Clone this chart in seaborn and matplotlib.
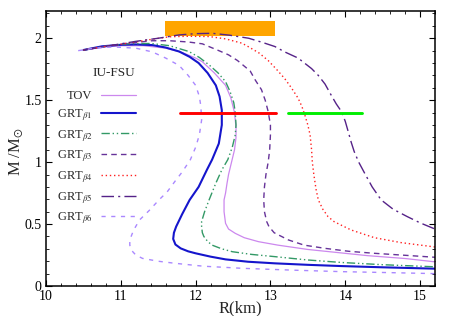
import matplotlib
matplotlib.use("Agg")
import matplotlib.pyplot as plt
import seaborn as sns
from matplotlib.patches import Rectangle
from matplotlib.ticker import MultipleLocator

# ---- data ----
tov_r = [10.50, 10.8, 11.0, 11.3, 11.6, 11.82, 12.0, 12.09, 12.25, 12.40, 12.47, 12.52, 12.54, 12.54, 12.52, 12.48, 12.44, 12.42, 12.40, 12.38, 12.38, 12.40, 12.44, 12.53, 12.65, 12.84, 13.1, 13.50, 13.9, 14.3, 14.8, 15.2]
tov_m = [1.905, 1.93, 1.94, 1.94, 1.92, 1.885, 1.84, 1.81, 1.72, 1.62, 1.52, 1.40, 1.28, 1.20, 1.10, 1.0, 0.90, 0.83, 0.75, 0.695, 0.60, 0.506, 0.46, 0.425, 0.39, 0.358, 0.33, 0.295, 0.27, 0.245, 0.222, 0.195]

b1_r = [10.50, 10.75, 11.0, 11.2, 11.42, 11.6, 11.78, 11.92, 12.04, 12.16, 12.27, 12.32, 12.35, 12.35, 12.31, 12.22, 12.15, 12.04, 11.92, 11.82, 11.74, 11.71, 11.70, 11.73, 11.80, 11.9, 12.0, 12.2, 12.40, 12.7, 13.06, 13.5, 13.95, 14.5, 15.2]
b1_m = [1.905, 1.935, 1.947, 1.95, 1.945, 1.925, 1.893, 1.85, 1.80, 1.72, 1.62, 1.53, 1.42, 1.30, 1.15, 1.02, 0.937, 0.80, 0.695, 0.58, 0.48, 0.43, 0.38, 0.335, 0.304, 0.28, 0.264, 0.237, 0.215, 0.196, 0.183, 0.171, 0.161, 0.151, 0.140]

b2_r = [10.50, 10.8, 11.1, 11.4, 11.65, 11.91, 12.05, 12.18, 12.30, 12.40, 12.46, 12.51, 12.53, 12.54, 12.53, 12.49, 12.43, 12.35, 12.27, 12.18, 12.12, 12.08, 12.08, 12.09, 12.11, 12.16, 12.22, 12.35, 12.49, 12.75, 13.06, 13.5, 13.95, 14.5, 15.2]
b2_m = [1.905, 1.935, 1.955, 1.958, 1.94, 1.893, 1.845, 1.785, 1.72, 1.65, 1.57, 1.48, 1.40, 1.30, 1.22, 1.12, 1.02, 0.937, 0.83, 0.695, 0.60, 0.52, 0.48, 0.43, 0.40, 0.36, 0.33, 0.30, 0.277, 0.255, 0.237, 0.21, 0.19, 0.172, 0.155]

b3_r = [10.50, 10.8, 11.1, 11.42, 11.65, 11.9, 12.09, 12.31, 12.44, 12.56, 12.66, 12.73, 12.80, 12.88, 12.93, 12.97, 13.0, 13.0, 12.99, 12.97, 12.94, 12.92, 12.91, 12.92, 12.95, 12.98, 13.05, 13.24, 13.45, 13.73, 14.05, 14.39, 14.8, 15.2]
b3_m = [1.905, 1.935, 1.96, 1.98, 1.98, 1.97, 1.955, 1.90, 1.866, 1.82, 1.77, 1.735, 1.66, 1.585, 1.50, 1.408, 1.30, 1.22, 1.10, 1.0, 0.90, 0.80, 0.695, 0.60, 0.52, 0.48, 0.43, 0.372, 0.33, 0.304, 0.28, 0.264, 0.248, 0.232]

b4_r = [10.50, 10.8, 11.2, 11.45, 11.65, 11.9, 12.18, 12.4, 12.62, 12.71, 12.85, 12.97, 13.08, 13.19, 13.28, 13.37, 13.42, 13.46, 13.50, 13.53, 13.55, 13.56, 13.58, 13.61, 13.64, 13.70, 13.77, 13.85, 13.95, 14.08, 14.39, 14.75, 15.2]
b4_m = [1.905, 1.935, 1.97, 1.995, 2.012, 2.016, 2.014, 1.995, 1.96, 1.93, 1.88, 1.82, 1.75, 1.675, 1.60, 1.516, 1.45, 1.38, 1.30, 1.22, 1.10, 1.0, 0.90, 0.78, 0.695, 0.62, 0.56, 0.52, 0.49, 0.452, 0.39, 0.35, 0.315]

b5_r = [10.50, 10.8, 11.2, 11.5, 11.78, 12.0, 12.22, 12.45, 12.71, 12.90, 13.06, 13.19, 13.37, 13.55, 13.64, 13.73, 13.81, 13.88, 13.95, 14.0, 14.04, 14.08, 14.12, 14.18, 14.26, 14.36, 14.48, 14.64, 14.83, 15.0, 15.2]
b5_m = [1.905, 1.935, 1.975, 2.0, 2.027, 2.037, 2.04, 2.025, 2.0, 1.965, 1.933, 1.89, 1.84, 1.755, 1.70, 1.63, 1.543, 1.47, 1.408, 1.33, 1.246, 1.16, 1.085, 1.0, 0.91, 0.80, 0.695, 0.62, 0.56, 0.51, 0.46]

b6_r = [10.43, 10.65, 10.9, 11.2, 11.42, 11.60, 11.78, 11.90, 12.0, 12.05, 12.07, 12.08, 12.05, 12.0, 11.93, 11.82, 11.73, 11.62, 11.51, 11.38, 11.25, 11.17, 11.12, 11.12, 11.14, 11.20, 11.29, 11.50, 11.73, 12.1, 12.62, 13.3, 13.95, 14.6, 15.2]
b6_m = [1.90, 1.92, 1.93, 1.92, 1.89, 1.84, 1.78, 1.70, 1.62, 1.53, 1.45, 1.34, 1.22, 1.12, 1.02, 0.92, 0.85, 0.76, 0.695, 0.61, 0.533, 0.45, 0.372, 0.33, 0.29, 0.25, 0.223, 0.20, 0.183, 0.16, 0.143, 0.128, 0.116, 0.108, 0.10]

labels = ["TOV", r"GRT$_{\beta1}$", r"GRT$_{\beta2}$", r"GRT$_{\beta3}$",
          r"GRT$_{\beta4}$", r"GRT$_{\beta5}$", r"GRT$_{\beta6}$"]
legend_title = "IU-FSU"

# observational constraints
orange_r = [11.59, 13.06]
orange_m = [2.019, 2.143]
red_bar_r = [11.79, 13.07]
green_bar_r = [13.23, 14.23]
bar_m = 1.40

# ---- style ----
sns.set_theme(style="ticks")
plt.rcParams["font.family"] = ["Liberation Serif", "DejaVu Serif"]
plt.rcParams["mathtext.fontset"] = "stix"

fig = plt.figure(figsize=(4.52, 3.16), dpi=100)
ax = fig.add_axes([0.1018, 0.0949, 0.8606, 0.8703])

ax.add_patch(Rectangle((orange_r[0], orange_m[0]), orange_r[1] - orange_r[0],
                       orange_m[1] - orange_m[0], color="#ffa500", lw=0, zorder=1))

curves = [
    (tov_r, tov_m, "#cc88ee", "-", 0.9),
    (b1_r, b1_m, "#1515cc", "-", 1.5),
    (b2_r, b2_m, "#339966", (0, (6, 2, 1, 2, 1, 2)), 1.0),
    (b3_r, b3_m, "#663399", (0, (4, 3)), 1.0),
    (b4_r, b4_m, "#ff2020", (0, (1, 2)), 1.0),
    (b5_r, b5_m, "#552288", (0, (9, 3, 1.5, 3)), 1.0),
    (b6_r, b6_m, "#aa88ff", (0, (3, 4)), 1.0),
]
handles = []
for (r, m, c, ls, lw), lab in zip(curves, labels):
    sns.lineplot(x=r, y=m, sort=False, estimator=None, color=c, lw=lw, ax=ax, zorder=2)
    ax.lines[-1].set_linestyle(ls)
    h, = ax.plot([], [], color=c, lw=lw, ls=ls, label=lab)
    handles.append(h)

sns.lineplot(x=red_bar_r, y=[bar_m, bar_m], color="#ff0000", lw=2.1, ax=ax, zorder=3)
sns.lineplot(x=green_bar_r, y=[bar_m, bar_m], color="#00ee00", lw=2.1, ax=ax, zorder=3)

ax.set_xlim(10, 15.2)
ax.set_ylim(0, 2.22)
ax.xaxis.set_major_locator(MultipleLocator(1))
ax.xaxis.set_minor_locator(MultipleLocator(0.2))
ax.yaxis.set_minor_locator(MultipleLocator(0.1))
ax.set_yticks([0, 0.5, 1, 1.5, 2])
ax.set_yticklabels(["0", "0.5", "1", "1.5", "2"])
ax.tick_params(which="both", direction="in", top=True, right=True, colors="black",
               labelsize=10)
ax.tick_params(which="major", length=4, width=0.8, pad=3)
ax.tick_params(which="minor", length=2, width=0.6)
for s in ax.spines.values():
    s.set_linewidth(1.1)
    s.set_color("black")

ax.set_xlabel("R(km)", fontsize=12, labelpad=-2)
ax.set_ylabel(r"M /M$_{\odot}$", fontsize=12)
ax.yaxis.set_label_coords(-0.055, 0.49)

leg = ax.legend(handles=handles, loc="upper right", bbox_to_anchor=(0.232, 0.712),
                frameon=False, markerfirst=False, fontsize=9,
                handlelength=2.8, handletextpad=0.7, borderpad=0,
                labelspacing=0.40, borderaxespad=0)
ax.text(0.229, 0.775, legend_title, transform=ax.transAxes, ha="right", va="center",
        fontsize=9.5)

fig.savefig("out.png", dpi=100)
